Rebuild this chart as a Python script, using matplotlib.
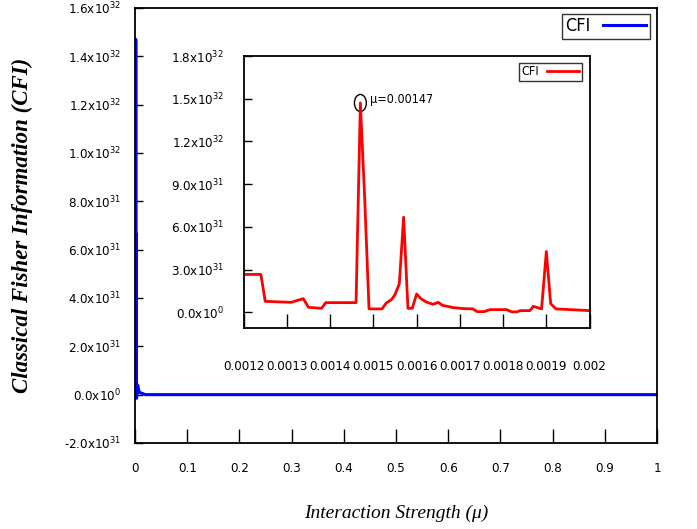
import matplotlib
matplotlib.use("Agg")
import matplotlib.pyplot as plt
from matplotlib.patches import Ellipse

# ---------------- data ----------------
mu_inset = [0.00120, 0.00124, 0.00125, 0.00131, 0.001338, 0.00135, 0.00138, 0.00139,
            0.00146, 0.00147, 0.00148, 0.00149, 0.00152, 0.00153, 0.001542, 0.00155,
            0.00156, 0.00157, 0.00158, 0.00159, 0.00160, 0.00161, 0.001622, 0.001638,
            0.00165, 0.00166, 0.001685, 0.001708, 0.00173, 0.00174, 0.001756, 0.00177,
            0.001808, 0.00182, 0.001832, 0.00184, 0.001862, 0.00187, 0.001889, 0.00190,
            0.00191, 0.001922, 0.00200]
cfi_inset = [2.66e31, 2.66e31, 0.77e31, 0.70e31, 0.96e31, 0.35e31, 0.28e31, 0.68e31,
             0.68e31, 1.47e32, 8.0e31, 0.24e31, 0.24e31, 0.66e31, 0.89e31, 1.24e31,
             2.0e31, 6.68e31, 0.28e31, 0.28e31, 1.29e31, 0.96e31, 0.73e31, 0.56e31,
             0.70e31, 0.49e31, 0.33e31, 0.26e31, 0.24e31, 0.05e31, 0.05e31, 0.19e31,
             0.19e31, 0.03e31, 0.03e31, 0.12e31, 0.12e31, 0.42e31, 0.24e31, 4.27e31,
             0.61e31, 0.24e31, 0.12e31]

mu_low = [0.0, 0.0004, 0.0008]
cfi_low = [0.0, 0.5e31, 0.2e31]
mu_high = [0.003, 0.005, 0.008, 0.02, 1.0]
cfi_high = [-0.15e31, 0.4e31, 0.1e31, 0.0, 0.0]

mu_main = mu_low + mu_inset + mu_high
cfi_main = cfi_low + cfi_inset + cfi_high

main_xticks = [0, 0.1, 0.2, 0.3, 0.4, 0.5, 0.6, 0.7, 0.8, 0.9, 1.0]
main_xlabels = ["0", "0.1", "0.2", "0.3", "0.4", "0.5", "0.6", "0.7", "0.8", "0.9", "1"]
main_yticks = [-2e31, 0, 2e31, 4e31, 6e31, 8e31, 1.0e32, 1.2e32, 1.4e32, 1.6e32]
main_ylabels = [r"-2.0x10$^{31}$", r"0.0x10$^{0}$", r"2.0x10$^{31}$", r"4.0x10$^{31}$",
                r"6.0x10$^{31}$", r"8.0x10$^{31}$", r"1.0x10$^{32}$", r"1.2x10$^{32}$",
                r"1.4x10$^{32}$", r"1.6x10$^{32}$"]
inset_xticks = [0.0012, 0.0013, 0.0014, 0.0015, 0.0016, 0.0017, 0.0018, 0.0019, 0.0020]
inset_xlabels = ["0.0012", "0.0013", "0.0014", "0.0015", "0.0016", "0.0017", "0.0018",
                 "0.0019", "0.002"]
inset_yticks = [0, 3e31, 6e31, 9e31, 1.2e32, 1.5e32, 1.8e32]
inset_ylabels = [r"0.0x10$^{0}$", r"3.0x10$^{31}$", r"6.0x10$^{31}$", r"9.0x10$^{31}$",
                 r"1.2x10$^{32}$", r"1.5x10$^{32}$", r"1.8x10$^{32}$"]

peak_mu = 0.00147
peak_cfi = 1.47e32

# ---------------- fonts ----------------
plt.rcParams["font.family"] = ["DejaVu Sans"]
plt.rcParams["font.stretch"] = "condensed"
plt.rcParams["mathtext.fontset"] = "custom"
plt.rcParams["mathtext.rm"] = "DejaVu Sans:stretch=condensed"
plt.rcParams["mathtext.it"] = "DejaVu Sans:stretch=condensed"
plt.rcParams["mathtext.bf"] = "DejaVu Sans:stretch=condensed"
plt.rcParams["mathtext.sf"] = "DejaVu Sans:stretch=condensed"

fig = plt.figure(figsize=(6.97, 5.29), dpi=100)

# ---------------- main axes ----------------
ax = fig.add_axes([0.1937, 0.1626, 0.7489, 0.8223])
ax.plot(mu_main, cfi_main, color="#0000ff", lw=2.2, label="CFI")
ax.set_xlim(0, 1)
ax.set_ylim(-2e31, 1.6e32)
ax.set_xticks(main_xticks)
ax.set_xticklabels(main_xlabels)
ax.set_yticks(main_yticks)
ax.set_yticklabels(main_ylabels)
ax.tick_params(axis="x", direction="in", length=10, width=1, pad=14, labelsize=9.5)
ax.tick_params(axis="y", direction="in", length=6, width=1, pad=10, labelsize=9.5)
for s in ax.spines.values():
    s.set_linewidth(1.3)
ax.set_xlabel("Interaction Strength (μ)", family="Liberation Serif", style="italic",
              fontsize=14, labelpad=21)
ax.set_ylabel("Classical Fisher Information (CFI)", family="Liberation Serif",
              style="italic", weight="bold", fontsize=16.5, labelpad=22)
leg = ax.legend(loc="upper right", fontsize=13, frameon=True, fancybox=False,
                handlelength=2.4, borderpad=0.2, handletextpad=0.7,
                bbox_to_anchor=(0.9935, 0.995), borderaxespad=0.2,
                markerfirst=False)
leg.get_frame().set_edgecolor("black")
leg.get_frame().set_linewidth(1.0)

# ---------------- inset axes ----------------
ins = fig.add_axes([0.3495, 0.3800, 0.4964, 0.5141])
ins.plot(mu_inset, cfi_inset, color="#ff0000", lw=2.0, label="CFI")
ins.set_xlim(0.0012, 0.0020)
ins.set_ylim(-1.1e31, 1.8e32)
ins.set_xticks(inset_xticks)
ins.set_xticklabels(inset_xlabels)
ins.set_yticks(inset_yticks)
ins.set_yticklabels(inset_ylabels)
ins.tick_params(axis="x", direction="in", length=10, width=1, pad=23, labelsize=9.5)
ins.tick_params(axis="y", direction="in", length=6, width=1, pad=14, labelsize=9.5)
for s in ins.spines.values():
    s.set_linewidth(1.3)
ileg = ins.legend(loc="upper right", fontsize=9, frameon=True, fancybox=False,
                  handlelength=2.6, borderpad=0.2, handletextpad=0.6,
                  bbox_to_anchor=(0.985, 0.985), borderaxespad=0.2,
                  markerfirst=False)
ileg.get_frame().set_edgecolor("black")
ileg.get_frame().set_linewidth(1.0)

ins.add_patch(Ellipse((peak_mu, peak_cfi), width=0.0000275, height=1.2e31,
                      fill=False, edgecolor="black", lw=1.0))
ins.text(peak_mu + 0.000023, peak_cfi + 0.025e32, "μ=%.5f" % peak_mu, fontsize=9,
         va="center", ha="left")

fig.savefig("out.png", dpi=100)
